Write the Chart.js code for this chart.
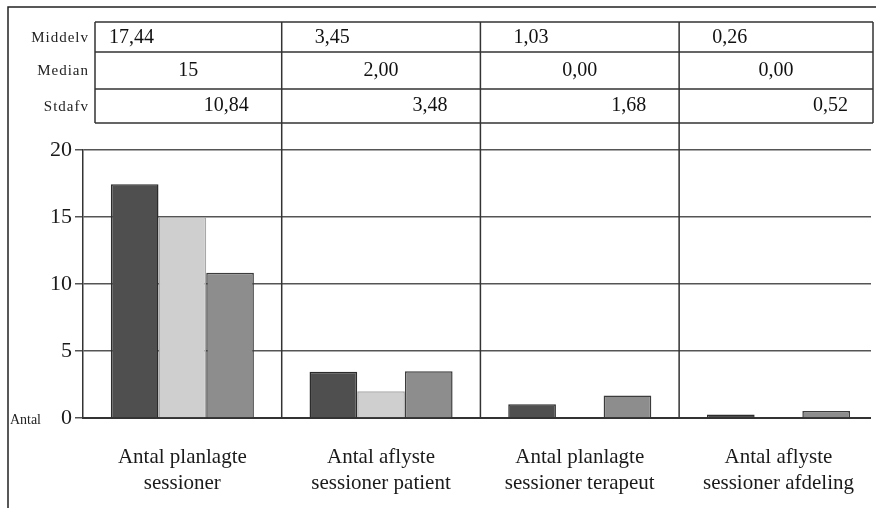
<!DOCTYPE html>
<html>
<head>
<meta charset="utf-8">
<script src="https://cdn.jsdelivr.net/npm/chart.js@4/dist/chart.umd.min.js"></script>
<style>
  html, body { margin: 0; padding: 0; background: #fff; }
  #chart { display: block; }
</style>
</head>
<body>
<canvas id="chart" width="880" height="508"></canvas>
<script>
// kategorier og værdier
const categories = [
  ["Antal planlagte", "sessioner"],
  ["Antal aflyste", "sessioner patient"],
  ["Antal planlagte", "sessioner terapeut"],
  ["Antal aflyste", "sessioner afdeling"]
];
const middelv = [17.44, 3.45, 1.03, 0.26];
const median = [15, 2.00, 0.00, 0.00];
const stdafv = [10.84, 3.48, 1.68, 0.52];

// tabellen over grafen
const rowLabels = ["Middelv", "Median", "Stdafv"];
const middelvText = ["17,44", "3,45", "1,03", "0,26"];
const medianText = ["15", "2,00", "0,00", "0,00"];
const stdafvText = ["10,84", "3,48", "1,68", "0,52"];

const yTicks = [0, 5, 10, 15, 20];

const serif = "'Liberation Serif', 'DejaVu Serif', serif";
const rightEdge = 872;

const tablePlugin = {
  id: 'tablePlugin',
  afterDraw(chart) {
    const ctx = chart.ctx;
    const x = chart.scales.x;
    const area = chart.chartArea;
    ctx.save();

    // gitterlinjerne stopper lidt før kanten
    ctx.fillStyle = '#fff';
    ctx.fillRect(rightEdge - 1, area.top - 5, chart.width - rightEdge + 1, area.bottom - area.top + 10);

    // ramme venstre og top
    ctx.strokeStyle = '#222';
    ctx.lineWidth = 1.5;
    ctx.beginPath();
    ctx.moveTo(8, 508);
    ctx.lineTo(8, 7);
    ctx.lineTo(876, 7);
    ctx.stroke();

    // kolonnegrænser
    const bounds = [95];
    for (let i = 0; i < categories.length - 1; i++) {
      bounds.push((x.getPixelForValue(i) + x.getPixelForValue(i + 1)) / 2);
    }
    bounds.push(rightEdge + 1);

    const rowsY = [22, 52, 89, 123];
    ctx.strokeStyle = '#333';
    ctx.lineWidth = 1.5;
    ctx.beginPath();
    rowsY.forEach(y => { ctx.moveTo(bounds[0], y); ctx.lineTo(bounds[bounds.length - 1], y); });
    ctx.moveTo(bounds[0], rowsY[0]); ctx.lineTo(bounds[0], rowsY[3]);
    ctx.moveTo(bounds[bounds.length - 1], rowsY[0]); ctx.lineTo(bounds[bounds.length - 1], rowsY[3]);
    for (let i = 1; i < bounds.length - 1; i++) {
      ctx.moveTo(bounds[i], rowsY[0]);
      ctx.lineTo(bounds[i], area.bottom);
    }
    ctx.stroke();

    // rækkenavne
    ctx.fillStyle = '#222';
    ctx.font = "15px " + serif;
    ctx.letterSpacing = '1px';
    ctx.textAlign = 'right';
    ctx.textBaseline = 'middle';
    rowLabels.forEach((lab, r) => {
      ctx.fillText(lab, 89, (rowsY[r] + rowsY[r + 1]) / 2 + 1);
    });
    ctx.letterSpacing = '0px';

    // tal
    ctx.font = "20px " + serif;
    ctx.fillStyle = '#111';
    for (let i = 0; i < categories.length; i++) {
      const l = bounds[i], r = bounds[i + 1];
      ctx.textAlign = 'left';
      ctx.fillText(middelvText[i], i === 0 ? l + 14 : l + 33, 38);
      ctx.textAlign = 'center';
      ctx.fillText(medianText[i], (l + r) / 2, 71);
      ctx.textAlign = 'right';
      ctx.fillText(stdafvText[i], i === categories.length - 1 ? r - 25 : r - 33, 106);
    }

    // "Antal" ved 0
    ctx.font = "14px " + serif;
    ctx.textAlign = 'right';
    ctx.fillStyle = '#222';
    ctx.fillText("Antal", 41, chart.scales.y.getPixelForValue(0) + 2);

    ctx.restore();
  }
};

new Chart(document.getElementById('chart'), {
  type: 'bar',
  data: {
    labels: categories,
    datasets: [
      {
        label: 'Middelv',
        data: middelv,
        backgroundColor: '#4f4f4f',
        borderColor: '#2c2c2c',
        borderWidth: 1.5
      },
      {
        label: 'Median',
        data: median,
        backgroundColor: '#cfcfcf',
        borderColor: '#a8a8a8',
        borderWidth: 1.5
      },
      {
        label: 'Stdafv',
        data: stdafv,
        backgroundColor: '#8d8d8d',
        borderColor: '#3c3c3c',
        borderWidth: 1.5
      }
    ]
  },
  options: {
    responsive: false,
    animation: false,
    devicePixelRatio: 1,
    layout: {
      padding: { left: 8, top: 150, right: 0, bottom: 14 }
    },
    plugins: {
      legend: { display: false },
      tooltip: { enabled: false }
    },
    datasets: {
      bar: { categoryPercentage: 0.72, barPercentage: 1 }
    },
    scales: {
      x: {
        afterFit(scale) { scale.height = 76; },
        grid: { display: false, drawTicks: false },
        border: { display: true, color: '#333', width: 2 },
        ticks: {
          color: '#1a1a1a',
          padding: 26,
          font: { family: serif, size: 21, lineHeight: 1.25 },
          maxRotation: 0
        }
      },
      y: {
        min: 0,
        max: 20,
        afterFit(scale) { scale.width = 75; },
        afterBuildTicks(scale) { scale.ticks = yTicks.map(v => ({ value: v })); },
        grid: { color: '#555', lineWidth: 1.5, tickLength: 8 },
        border: { display: true, color: '#333', width: 1.5 },
        ticks: {
          color: '#1a1a1a',
          padding: 3,
          font: { family: serif, size: 22 }
        }
      }
    }
  },
  plugins: [tablePlugin]
});
</script>
</body>
</html>
